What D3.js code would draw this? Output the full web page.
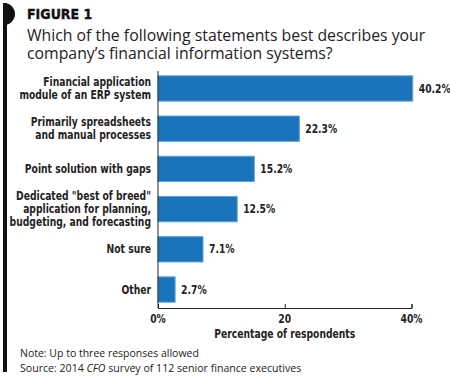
<!DOCTYPE html>
<html>
<head>
<meta charset="utf-8">
<script src="https://cdn.jsdelivr.net/npm/d3@7"></script>
<style>
  body { margin: 0; background: #fff; }
  .cond { font-family: "DejaVu Sans", sans-serif; font-weight: bold; }
  .reg { font-family: "Open Sans", "Noto Sans", sans-serif; }
</style>
</head>
<body>
<div id="chart"></div>
<script>
// donnees
const categories = [
  ["Financial application", "module of an ERP system"],
  ["Primarily spreadsheets", "and manual processes"],
  ["Point solution with gaps"],
  ["Dedicated \"best of breed\"", "application for planning,", "budgeting, and forecasting"],
  ["Not sure"],
  ["Other"]
];
const valeurs = [40.2, 22.3, 15.2, 12.5, 7.1, 2.7];
const ticks = [0, 20, 40];
const tickLabels = ["0%", "20", "40%"];

const W = 450, H = 382;
const COND = 0.8; // pas de police condensee installee -> on serre le texte
const svg = d3.select("#chart").append("svg").attr("width", W).attr("height", H);

// serre un texte (ou ses tspans) a k fois sa largeur
function serre(node, k) {
  const cibles = node.querySelectorAll("tspan").length ? node.querySelectorAll("tspan") : [node];
  cibles.forEach(n => {
    const w = n.getComputedTextLength();
    n.setAttribute("textLength", w * k);
    n.setAttribute("lengthAdjust", "spacingAndGlyphs");
  });
}

// barre noire a gauche avec le demi-cercle en haut
svg.append("rect").attr("x", 3).attr("y", 3).attr("width", 4).attr("height", 369).attr("fill", "#111");
svg.append("path").attr("d", "M3,3 L4,3 A11,11 0 0 1 4,25 L3,25 Z").attr("fill", "#111");

// titres
svg.append("text").attr("class", "cond").attr("x", 27).attr("y", 18.5)
  .attr("font-size", 14).attr("fill", "#111").attr("stroke", "#111").attr("stroke-width", 0.4)
  .text("FIGURE 1").each(function() { serre(this, 0.9); });
const titre = ["Which of the following statements best describes your", "company\u2019s financial information systems?"];
titre.forEach((t, i) => {
  svg.append("text").attr("class", "reg").attr("x", 27).attr("y", 40.5 + i * 18)
    .attr("font-size", 15.8).attr("fill", "#222").text(t);
});

const x = d3.scaleLinear().domain([0, 40]).range([158, 411.5]);
const y = d3.scaleBand().domain(d3.range(valeurs.length)).range([71, 307]).paddingInner(0.37).paddingOuter(0.12);

// barres
svg.selectAll("rect.bar").data(valeurs).enter().append("rect")
  .attr("class", "bar")
  .attr("x", x(0))
  .attr("y", (d, i) => y(i))
  .attr("width", d => x(d) - x(0))
  .attr("height", y.bandwidth())
  .attr("fill", "#1a74bb")
  .attr("stroke", "#5ea3db")
  .attr("stroke-width", 1);

// valeurs
svg.selectAll("text.val").data(valeurs).enter().append("text")
  .attr("class", "cond val")
  .attr("x", d => x(d) + 6)
  .attr("y", (d, i) => y(i) + y.bandwidth() / 2)
  .attr("dy", "0.35em")
  .attr("font-size", 11.5).attr("fill", "#222")
  .text(d => d.toFixed(1) + "%")
  .each(function() { serre(this, COND); });

// etiquettes categories
categories.forEach((lignes, i) => {
  const cy = y(i) + y.bandwidth() / 2;
  const t = svg.append("text").attr("class", "cond").attr("text-anchor", "end")
    .attr("font-size", 11.5).attr("fill", "#222");
  lignes.forEach((l, j) => {
    t.append("tspan").attr("x", 151)
      .attr("y", cy + (j - (lignes.length - 1) / 2) * 12.7)
      .attr("dy", "0.35em").text(l);
  });
  serre(t.node(), COND);
});

// axe vertical
svg.append("line").attr("x1", x(0)).attr("x2", x(0)).attr("y1", 71).attr("y2", 308)
  .attr("stroke", "#222").attr("stroke-width", 1);

// axe horizontal
const axe = svg.append("g").attr("transform", "translate(0,308)")
  .call(d3.axisTop(x).tickValues(ticks).tickSize(4).tickFormat(""));
axe.select(".domain").attr("stroke", "#222");
axe.selectAll(".tick line").attr("stroke", "#222");
svg.selectAll("text.tick").data(ticks).enter().append("text")
  .attr("class", "cond tick").attr("text-anchor", "middle")
  .attr("x", d => x(d)).attr("y", 323)
  .attr("font-size", 11.5).attr("fill", "#222")
  .text((d, i) => tickLabels[i])
  .each(function() { serre(this, COND); });
svg.append("text").attr("class", "cond").attr("text-anchor", "middle")
  .attr("x", x(20)).attr("y", 338).attr("font-size", 11.5).attr("fill", "#222")
  .text("Percentage of respondents")
  .each(function() { serre(this, COND); });

// notes
svg.append("text").attr("class", "reg").attr("x", 20).attr("y", 357)
  .attr("font-size", 10.5).attr("fill", "#222").text("Note: Up to three responses allowed");
const src = svg.append("text").attr("class", "reg").attr("x", 20).attr("y", 372)
  .attr("font-size", 10.6).attr("fill", "#222");
src.append("tspan").text("Source: 2014 ");
src.append("tspan").attr("font-style", "italic").text("CFO");
src.append("tspan").text(" survey of 112 senior finance executives");
</script>
</body>
</html>
